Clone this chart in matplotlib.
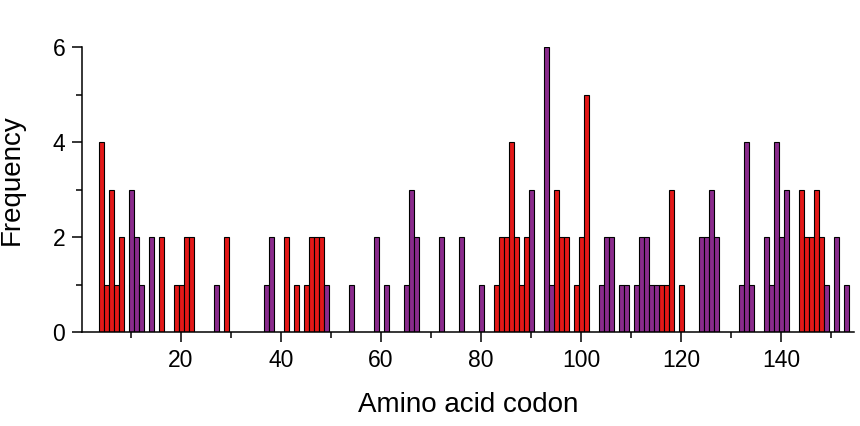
import numpy as np
import matplotlib.pyplot as plt
from matplotlib.ticker import MultipleLocator

plt.rcParams['font.family'] = ['Liberation Sans', 'DejaVu Sans']

# codon positions and frequencies, red group
red_codons = [4, 5, 6, 7, 8, 16, 19, 20, 21, 22, 29, 41, 43, 45, 46, 47, 48,
              83, 84, 85, 86, 87, 88, 89, 95, 96, 97, 99, 100, 101,
              116, 117, 118, 120, 144, 145, 146, 147, 148]
red_freq = [4, 1, 3, 1, 2, 2, 1, 1, 2, 2, 2, 2, 1, 1, 2, 2, 2,
            1, 2, 2, 4, 2, 1, 2, 3, 2, 2, 1, 2, 5,
            1, 1, 3, 1, 3, 2, 2, 3, 2]

# purple group
purple_codons = [10, 11, 12, 14, 27, 37, 38, 49, 54, 59, 61, 65, 66, 67, 72, 76, 80,
                 90, 93, 94, 104, 105, 106, 108, 109, 111, 112, 113, 114, 115,
                 124, 125, 126, 127, 132, 133, 134, 137, 138, 139, 140, 141,
                 149, 151, 153]
purple_freq = [3, 2, 1, 2, 1, 1, 2, 1, 1, 2, 1, 1, 3, 2, 2, 2, 1,
               3, 6, 1, 1, 2, 2, 1, 1, 1, 2, 2, 1, 1,
               2, 2, 3, 2, 1, 4, 1, 2, 1, 4, 2, 3,
               1, 2, 1]

x_ticks = [20, 40, 60, 80, 100, 120, 140]
y_ticks = [0, 2, 4, 6]

fig = plt.figure(figsize=(8.6, 4.26), dpi=100)
ax = fig.add_axes([82/860, 94/426, 772/860, 285/426])

ax.bar(red_codons, red_freq, width=1.0, color='#e31818', edgecolor='black', linewidth=0.8)
ax.bar(purple_codons, purple_freq, width=1.0, color='#8a2b8c', edgecolor='black', linewidth=0.8)

ax.set_xlim(0.2, 154.6)
ax.set_ylim(0, 6)
ax.set_xticks(x_ticks)
ax.set_yticks(y_ticks)
ax.xaxis.set_minor_locator(MultipleLocator(10))
ax.yaxis.set_minor_locator(MultipleLocator(1))

for s in ['top', 'right']:
    ax.spines[s].set_visible(False)
for s in ['left', 'bottom']:
    ax.spines[s].set_linewidth(1.1)

ax.tick_params(which='major', direction='out', length=7, width=1.1, labelsize=16.5, pad=5)
ax.tick_params(which='minor', direction='out', length=4.5, width=1.1)

ax.set_xlabel('Amino acid codon', fontsize=20, va='center')
ax.xaxis.set_label_coords(0.5, -0.256)
ax.set_ylabel('Frequency', fontsize=20, va='center')
ax.yaxis.set_label_coords(-0.091, 0.533)

fig.savefig('out.png', dpi=100)
